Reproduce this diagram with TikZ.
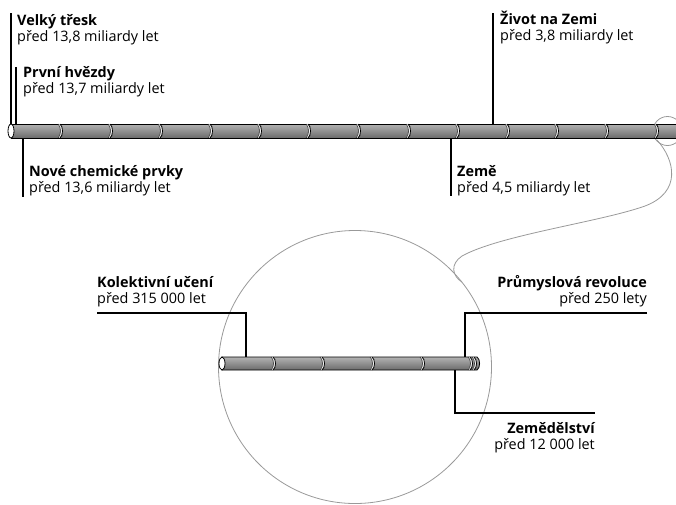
\documentclass[tikz,border=0pt]{standalone}
\usepackage{fontspec}
\setmainfont{Open Sans}
\newcommand{\tjoint}[3]{%
  \draw[white, line width=1.4pt] (#1-1,#2+0.5) .. controls (#1+2.3,#2+2) and (#1+2.3,#3-2) .. (#1-1,#3-0.5);
  \draw[black, line width=0.8pt] (#1,#2) .. controls (#1+3.3,#2+2) and (#1+3.3,#3-2) .. (#1,#3);
  \draw[black!80, line width=0.6pt] (#1-2,#2) .. controls (#1+1.3,#2+2) and (#1+1.3,#3-2) .. (#1-2,#3);
}
\begin{document}
\begin{tikzpicture}[x=1pt,y=-1pt,
  title/.style={font=\fontsize{14.4}{16}\selectfont\bfseries, inner sep=0pt},
  sub/.style={font=\fontsize{14.4}{16}\selectfont, inner sep=0pt},
  stem/.style={line width=2pt, black},
  zoomring/.style={draw=black!40, line width=0.8pt},
  tubebody/.style={top color=black!30, middle color=black!5, bottom color=black!58, draw=black, line width=0.8pt},
  tubecap/.style={fill=white, draw=black, line width=0.8pt}]
\clip (0,0) rectangle (676,504);

% zoom rings and link
\draw[zoomring] (355,367) circle [radius=136.5];
\draw[zoomring] (667.5,131) circle [radius=14.5];
\draw[zoomring] (657,140) .. controls (675,160) and (682,192) .. (645,206)
  .. controls (600,222) and (500,235) .. (462,256)
  .. controls (450,264) and (452,276) .. (462,282);

% top tube
\coordinate (topL) at (11,131);
\path[tubebody] (11,124) rectangle (690,138);
\foreach \x in {60,110,160,210,259,308,358,408,457,507,556,606,656} {\tjoint{\x}{124}{138}}
\draw[tubecap] (topL) ellipse [x radius=3, y radius=7];

% bottom tube
\coordinate (botL) at (222,363.5);
\path[tubebody] (222,357) -- (477,357) .. controls (480.5,359) and (480.5,368) .. (477,370) -- (222,370) -- cycle;
\foreach \x in {273,322,372,422,470,474} {\tjoint{\x}{357}{370}}
\draw[tubecap] (botL) ellipse [x radius=3, y radius=6.5];

% labels top
\node[title, anchor=base west] (vt) at (17,25) {Velký třesk};
\node[sub, anchor=base west] (vtd) at (17,41) {před 13,8 miliardy let};
\node[title, anchor=base west] (ph) at (23,77) {První hvězdy};
\node[sub, anchor=base west] (phd) at (23,93) {před 13,7 miliardy let};
\node[title, anchor=base west] (nc) at (29,176) {Nové chemické prvky};
\node[sub, anchor=base west] (ncd) at (29,192) {před 13,6 miliardy let};
\node[title, anchor=base west] (zz) at (500,24) {Život na Zemi};
\node[sub, anchor=base west] (zzd) at (500,40) {před 3,8 miliardy let};
\node[title, anchor=base west] (ze) at (457,176) {Země};
\node[sub, anchor=base west] (zed) at (457,192) {před 4,5 miliardy let};

% labels bottom
\node[title, anchor=base west] (ku) at (97,287) {Kolektivní učení};
\node[sub, anchor=base west] (kud) at (97,303) {před 315 000 let};
\node[title, anchor=base east] (pr) at (647,287) {Průmyslová revoluce};
\node[sub, anchor=base east] (prd) at (647,303) {před 250 lety};
\node[title, anchor=base east] (zd) at (595,433) {Zemědělství};
\node[sub, anchor=base east] (zdd) at (595,449) {před 12 000 let};

% stems
\coordinate (vtA) at (10.5,13);   \coordinate (vtB) at (10.5,124);
\coordinate (phA) at (16,67);     \coordinate (phB) at (16,124);
\coordinate (ncA) at (22.5,138);  \coordinate (ncB) at (22.5,197);
\coordinate (zzA) at (493,13);    \coordinate (zzB) at (493,124);
\coordinate (zeA) at (451,138);   \coordinate (zeB) at (451,196);
\draw[stem] (vtA) -- (vtB);
\draw[stem] (phA) -- (phB);
\draw[stem] (ncA) -- (ncB);
\draw[stem] (zzA) -- (zzB);
\draw[stem] (zeA) -- (zeB);

\coordinate (kuA) at (97,313); \coordinate (kuB) at (246,357);
\coordinate (prA) at (647,313); \coordinate (prB) at (465,357);
\coordinate (zdA) at (455,370); \coordinate (zdB) at (595,413);
\draw[stem] (kuA) -| (kuB);
\draw[stem] (prA) -| (prB);
\draw[stem] (zdA) |- (zdB);
\end{tikzpicture}
\end{document}
